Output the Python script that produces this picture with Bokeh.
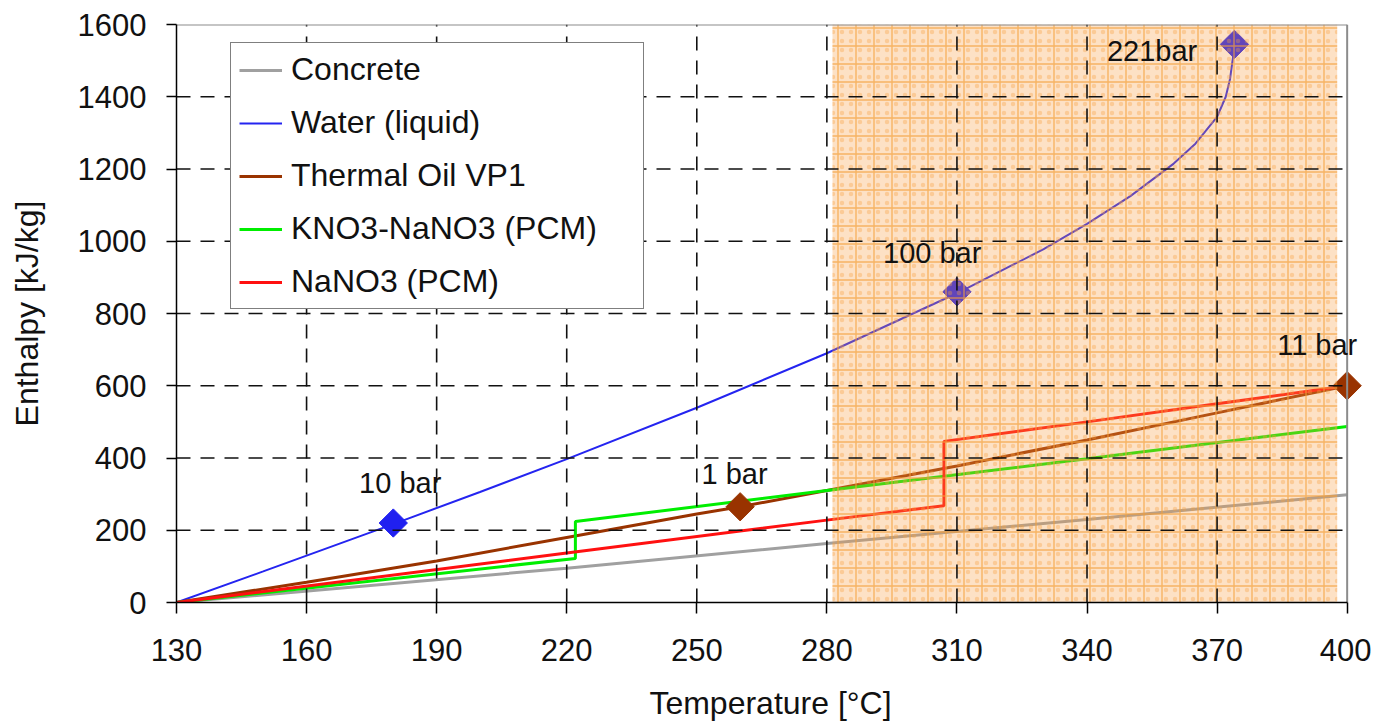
from bokeh.plotting import figure
from bokeh.models import Range1d, FixedTicker, ColumnDataSource, LabelSet
from bokeh.core.properties import value
from bokeh.embed import file_html
from bokeh.resources import INLINE
import math

# ---------------- data ----------------
x_ticks = [130, 160, 190, 220, 250, 280, 310, 340, 370, 400]
y_ticks = [0, 200, 400, 600, 800, 1000, 1200, 1400, 1600]

concrete_T = [130, 220, 280, 340, 400]
concrete_H = [0, 95, 163, 230, 298]

water_T = [130, 150, 180, 200, 220, 250, 280, 310, 330, 340, 350, 360, 365, 370, 372, 373, 374]
water_H = [0, 86, 217, 306, 397, 539, 690, 856, 978, 1048, 1125, 1215, 1270, 1344, 1400, 1450, 1538]

oil_T = [130, 160, 190, 220, 250, 260, 280, 310, 340, 370, 400]
oil_H = [0, 56, 115, 180, 245, 265, 310, 378, 450, 525, 600]

kno3_T = [130, 222, 222, 280, 340, 400]
kno3_H = [0, 122, 224, 310, 398, 487]

nano3_T = [130, 220, 280, 307, 307, 340, 370, 400]
nano3_H = [0, 137, 228, 268, 446, 500, 550, 600]

water_mk_T = [180, 310, 374]
water_mk_H = [220, 860, 1545]
oil_mk_T = [260, 400]
oil_mk_H = [265, 600]

ann_text = ["10 bar", "1 bar", "100 bar", "221bar", "11 bar"]
ann_T = [181.6, 258.7, 304.3, 355.0, 393.1]
ann_H = [304, 329, 941, 1500, 684]

shade_T = [281.3, 397.7]
shade_H = [0, 1600]

FONT = "Liberation Sans"

p = figure(width=1371, height=726,
           x_range=Range1d(130, 404), y_range=Range1d(0, 1600),
           output_backend="svg", toolbar_location=None,
           min_border_left=176, min_border_right=7,
           min_border_top=24, min_border_bottom=124)
p.xgrid.visible = False
p.ygrid.visible = False
p.outline_line_color = None
p.background_fill_color = "white"

# ---------------- series ----------------
p.line(concrete_T, concrete_H, line_color="#A0A0A0", line_width=3, legend_label="Concrete")
p.line(water_T, water_H, line_color="#2424F0", line_width=2, legend_label="Water (liquid)")
p.line(oil_T, oil_H, line_color="#993300", line_width=3, legend_label="Thermal Oil VP1")
p.line(kno3_T, kno3_H, line_color="#00EE00", line_width=3, legend_label="KNO3-NaNO3 (PCM)")
p.line(nano3_T, nano3_H, line_color="#FF1010", line_width=3, legend_label="NaNO3 (PCM)")

p.scatter(water_mk_T, water_mk_H, marker="square", angle=math.pi / 4, size=20,
          fill_color="#2020F0", line_color="#2020F0")
p.scatter(oil_mk_T, oil_mk_H, marker="square", angle=math.pi / 4, size=20,
          fill_color="#993300", line_color="#993300")

# ---------------- shaded region (overlay) ----------------
p.quad(left=[shade_T[0]], right=[shade_T[1]], bottom=[shade_H[0]], top=[shade_H[1]],
       fill_color="#F99A40", fill_alpha=0.30, line_color=None,
       hatch_pattern="+", hatch_color="#F5A038", hatch_alpha=0.7,
       hatch_weight=1.4, hatch_scale=18)
p.quad(left=[shade_T[0]], right=[shade_T[1]], bottom=[shade_H[0]], top=[shade_H[1]],
       fill_color=None, line_color=None,
       hatch_pattern="dot", hatch_color="#F7A040", hatch_alpha=0.35,
       hatch_weight=0.8, hatch_scale=9)

# ---------------- dashed grid ----------------
gx = x_ticks[1:-1]
p.segment(x0=gx, y0=[y_ticks[0]] * len(gx), x1=gx, y1=[y_ticks[-1]] * len(gx),
          line_color="#111111", line_width=1.6, line_dash="14 10")
gy = y_ticks[1:-1]
p.segment(x0=[x_ticks[0]] * len(gy), y0=gy, x1=[x_ticks[-1]] * len(gy), y1=gy,
          line_color="#111111", line_width=1.6, line_dash="14 10")

# frame border (top / right)
p.segment(x0=[x_ticks[0], x_ticks[-1]], y0=[y_ticks[-1], y_ticks[0]],
          x1=[x_ticks[-1], x_ticks[-1]], y1=[y_ticks[-1], y_ticks[-1]],
          line_color="#8C8C8C", line_width=2)

# ---------------- annotations ----------------
src = ColumnDataSource(dict(x=ann_T, y=ann_H, text=ann_text))
p.add_layout(LabelSet(x="x", y="y", text="text", source=src,
                      text_align="center", text_baseline="alphabetic",
                      text_font=value(FONT), text_font_size=value("29px"),
                      text_color="#111111"))

# ---------------- axes ----------------
for ax in (p.xaxis[0], p.yaxis[0]):
    ax.axis_line_color = "black"
    ax.axis_line_width = 1.5
    ax.major_tick_line_color = "black"
    ax.major_tick_line_width = 1.5
    ax.minor_tick_line_color = None
    ax.major_label_text_font = FONT
    ax.major_label_text_font_size = "31px"
    ax.major_label_text_color = "#111111"
    ax.axis_label_text_font = FONT
    ax.axis_label_text_font_size = "32px"
    ax.axis_label_text_font_style = "normal"
    ax.axis_label_text_color = "#111111"

p.xaxis.ticker = FixedTicker(ticks=x_ticks)
p.xaxis.bounds = (x_ticks[0], x_ticks[-1])
p.xaxis.major_tick_in = 0
p.xaxis.major_tick_out = 11
p.xaxis.major_label_standoff = 25
p.xaxis.axis_label = "Temperature [°C]"
p.xaxis.axis_label_standoff = 21

p.yaxis.ticker = FixedTicker(ticks=y_ticks)
p.yaxis.bounds = (y_ticks[0], y_ticks[-1])
p.yaxis.major_tick_in = 0
p.yaxis.major_tick_out = 10
p.yaxis.major_label_standoff = 20
p.yaxis.axis_label = "Enthalpy [kJ/kg]"
p.yaxis.axis_label_standoff = 30

# ---------------- legend ----------------
lg = p.legend[0]
lg.location = (54, 293)
lg.label_text_font = FONT
lg.label_text_font_size = "32px"
lg.label_text_color = "#111111"
lg.glyph_width = 43
lg.glyph_height = 36
lg.label_height = 36
lg.label_width = 344
lg.label_standoff = 9
lg.padding = 8
lg.spacing = 16
lg.margin = 0
lg.border_line_color = "black"
lg.border_line_width = 1.5
lg.background_fill_color = "white"
lg.background_fill_alpha = 1.0

open("out.html", "w").write(file_html(p, INLINE))
